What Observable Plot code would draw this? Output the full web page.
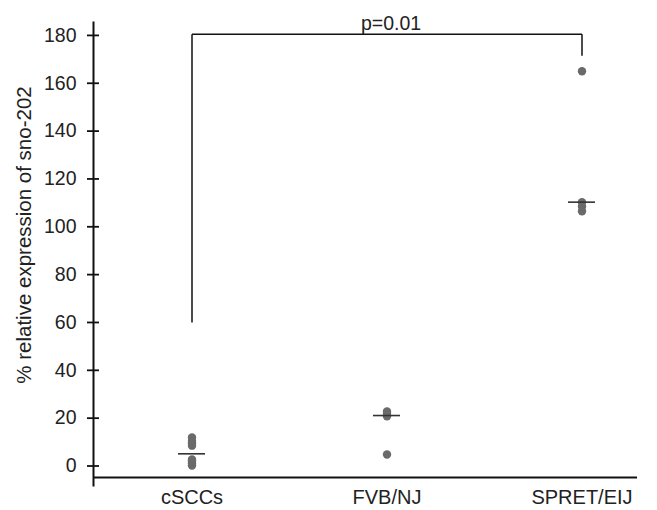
<!DOCTYPE html>
<html>
<head>
<meta charset="utf-8">
<script src="https://cdn.jsdelivr.net/npm/d3@7"></script>
<script src="https://cdn.jsdelivr.net/npm/@observablehq/plot@0.6"></script>
<style>
  html, body { margin: 0; padding: 0; background: #fff; }
  #chart { width: 657px; height: 510px; }
</style>
</head>
<body>
<div id="chart"></div>
<script>
// ---- data ----
const categories = ["cSCCs", "FVB/NJ", "SPRET/EIJ"];
const cSCCsValues = [0.2, 1.0, 2.0, 2.7, 8.5, 9.5, 10.5, 11.9];
const fvbValues = [4.8, 20.8, 21.8, 22.8];
const spretValues = [106.5, 108.5, 110.3, 165];
const medians = [5.1, 21.1, 110.3];
const yTicks = [0, 20, 40, 60, 80, 100, 120, 140, 160, 180];
const bracketFrom = "cSCCs", bracketTo = "SPRET/EIJ";
const bracketLeftBottom = 60, bracketTop = 180.5, bracketRightBottom = 171.5;
const pLabel = "p=0.01";
const yLabel = "% relative expression of sno-202";
const xAxisValue = -4.8;

const points = [
  ...cSCCsValues.map(v => ({group: categories[0], value: v})),
  ...fvbValues.map(v => ({group: categories[1], value: v})),
  ...spretValues.map(v => ({group: categories[2], value: v}))
];
const medianRows = categories.map((c, i) => ({group: c, value: medians[i]}));
const bracket = [
  {x1: bracketFrom, y1: bracketLeftBottom, x2: bracketFrom, y2: bracketTop},
  {x1: bracketFrom, y1: bracketTop, x2: bracketTo, y2: bracketTop},
  {x1: bracketTo, y1: bracketTop, x2: bracketTo, y2: bracketRightBottom}
];

const font = "'Liberation Sans', Arial, Helvetica, sans-serif";
const W = 657, ML = 93, MR = 20;

const chart = Plot.plot({
  width: W,
  height: 510,
  marginLeft: ML,
  marginRight: MR,
  marginTop: 22,
  marginBottom: 25,
  style: {fontFamily: font, background: "#fff", color: "#222", overflow: "visible"},
  x: {type: "band", domain: categories, range: [177.5, 595.5], paddingInner: 0.862, paddingOuter: 0, axis: null},
  y: {domain: [-8.15, 185.4], axis: null},
  marks: [
    // y axis line
    Plot.frame({anchor: "left", stroke: "#111", strokeWidth: 2}),
    // x axis line
    Plot.ruleY([xAxisValue], {stroke: "#111", strokeWidth: 2}),
    // y tick marks crossing the axis
    Plot.ruleY(yTicks, {y: d => d, insetLeft: -6, insetRight: W - MR - ML - 6, stroke: "#111", strokeWidth: 1.8}),
    Plot.axisY({ticks: yTicks, tickSize: 0, tickPadding: 17, fontSize: 19.5, tickFormat: d => d, label: null}),
    Plot.axisX({tickSize: 0, tickPadding: 4.5, fontSize: 20, label: null}),
    Plot.text([yLabel], {frameAnchor: "left", rotate: -90, dx: -69, dy: -19, fontSize: 20.5, fill: "#222", textAnchor: "middle"}),
    // bracket
    Plot.link(bracket, {x1: "x1", y1: "y1", x2: "x2", y2: "y2", stroke: "#111", strokeWidth: 1.5}),
    Plot.text([pLabel], {x: () => categories[1], y: () => bracketTop, dy: -10, dx: 4, fontSize: 19.5, fill: "#222"}),
    // points
    Plot.dot(points, {x: "group", y: "value", r: 4.2, fill: "#6a6a6a", stroke: "none"}),
    // medians
    Plot.tickY(medianRows, {x: "group", y: "value", stroke: "#333", strokeWidth: 1.6})
  ]
});
document.getElementById("chart").appendChild(chart);
</script>
</body>
</html>
